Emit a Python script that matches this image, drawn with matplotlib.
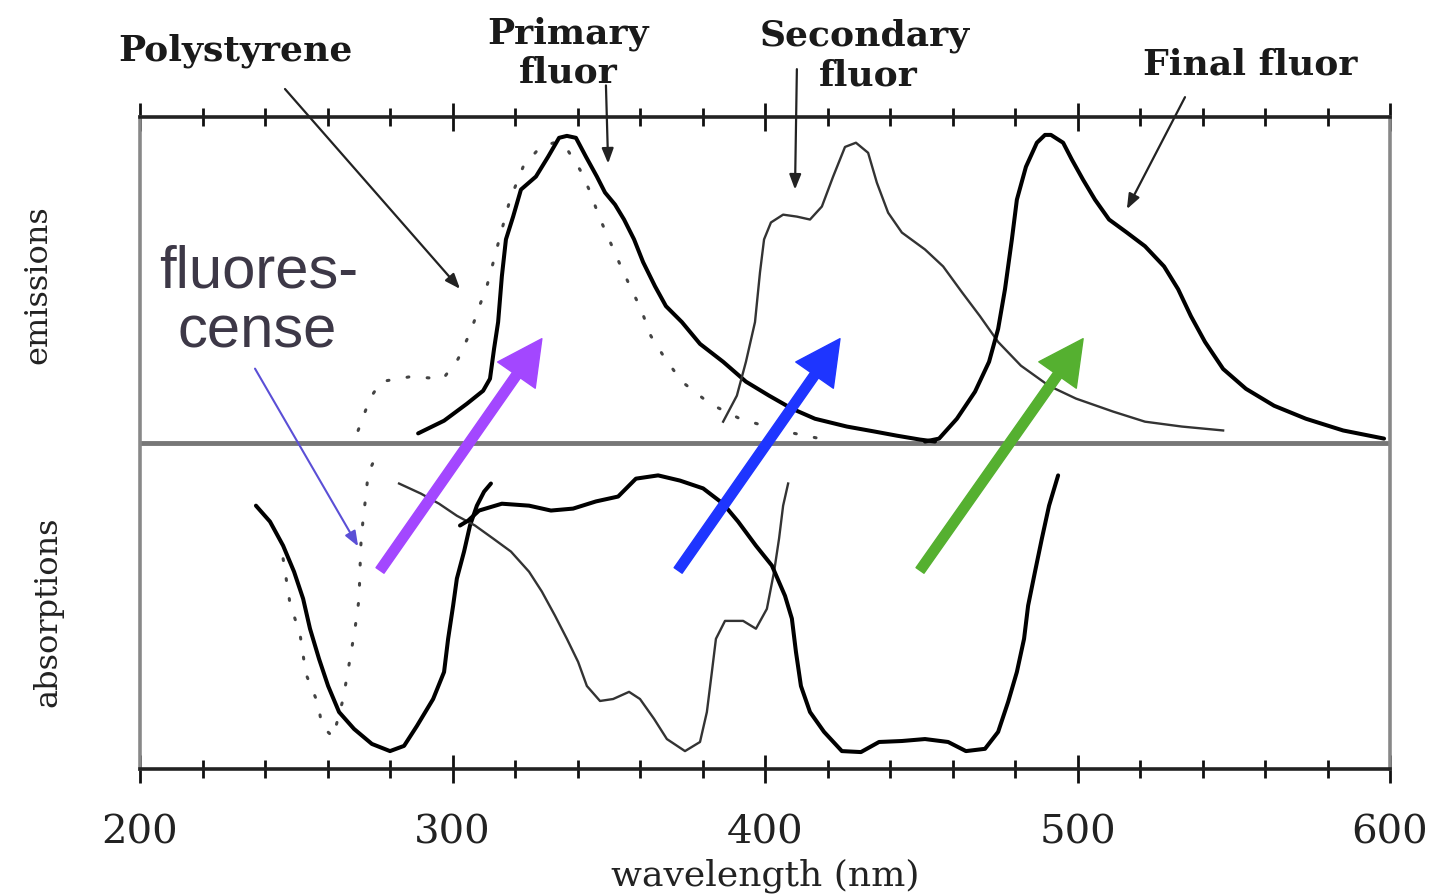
import numpy as np
import matplotlib
matplotlib.use("Agg")
import matplotlib.pyplot as plt

# emission spectra (upper half), wavelength in nm, relative intensity
ps_em_nm = [269.8, 273.6, 277.1, 286.4, 297.0, 301.8, 305.9, 308.5, 311.0, 313.3, 315.2,
            318.4, 322.6, 328.0, 332.8, 336.6, 340.8, 344.0, 346.9, 350.1, 353.6, 356.8,
            360.3, 363.5, 367.7, 373.4, 382.4, 392.0, 404.8, 417.6]
ps_em_val = [0.040, 0.138, 0.190, 0.205, 0.199, 0.260, 0.346, 0.419, 0.483, 0.566, 0.636,
             0.749, 0.850, 0.910, 0.925, 0.905, 0.841, 0.774, 0.697, 0.627, 0.550, 0.483,
             0.413, 0.330, 0.266, 0.190, 0.122, 0.076, 0.040, 0.015]

pf_em_nm = [289.0, 297.3, 304.6, 309.8, 312.0, 313.3, 314.6, 315.8, 317.1, 319.4, 321.9,
            326.7, 330.6, 334.1, 336.6, 339.5, 342.7, 346.2, 348.8, 352.0, 354.9, 358.1,
            361.0, 364.8, 368.3, 373.4, 379.2, 386.6, 393.9, 401.3, 408.6, 416.0, 426.2,
            434.9, 442.2, 449.6, 454.4]
pf_em_val = [0.031, 0.070, 0.122, 0.162, 0.199, 0.291, 0.373, 0.514, 0.627, 0.697, 0.780,
             0.820, 0.881, 0.939, 0.945, 0.939, 0.881, 0.820, 0.771, 0.734, 0.688, 0.627,
             0.557, 0.483, 0.422, 0.373, 0.306, 0.251, 0.190, 0.147, 0.107, 0.076, 0.052,
             0.037, 0.024, 0.012, 0.006]

sf_em_nm = [386.6, 391.0, 393.9, 396.8, 398.4, 399.7, 401.9, 405.8, 410.2, 414.4, 418.2,
            421.8, 425.6, 429.1, 433.0, 435.8, 439.4, 443.8, 451.2, 457.0, 463.0, 468.8,
            474.6, 481.9, 490.9, 499.5, 511.4, 521.6, 533.4, 546.6]
sf_em_val = [0.067, 0.147, 0.251, 0.373, 0.526, 0.627, 0.679, 0.703, 0.697, 0.688, 0.728,
             0.820, 0.911, 0.924, 0.893, 0.801, 0.709, 0.648, 0.596, 0.544, 0.465, 0.391,
             0.312, 0.239, 0.177, 0.138, 0.098, 0.067, 0.052, 0.040]

ff_em_nm = [451.2, 455.7, 461.4, 467.2, 471.7, 474.6, 476.8, 479.0, 480.6, 483.5, 487.0,
            489.6, 491.5, 495.4, 498.2, 501.8, 505.6, 510.1, 515.8, 521.6, 527.7, 532.2,
            536.3, 540.8, 546.6, 553.9, 562.9, 573.1, 585.0, 598.1]
ff_em_val = [0.006, 0.015, 0.076, 0.159, 0.251, 0.352, 0.474, 0.627, 0.749, 0.850, 0.924,
             0.948, 0.948, 0.924, 0.872, 0.810, 0.749, 0.688, 0.648, 0.606, 0.544, 0.474,
             0.391, 0.312, 0.229, 0.168, 0.116, 0.076, 0.040, 0.015]

# absorption spectra (lower half, drawn downwards)
ps_ab_nm = [245.8, 248.0, 251.2, 253.1, 257.0, 258.2, 261.8, 265.0, 267.2, 268.8, 270.1,
            270.4, 270.7, 271.4, 272.3, 273.0, 275.2, 277.1]
ps_ab_val = [0.354, 0.492, 0.585, 0.708, 0.800, 0.868, 0.902, 0.785, 0.662, 0.569, 0.477,
             0.385, 0.308, 0.231, 0.160, 0.092, 0.046, 0.015]

pf_ab_nm = [237.1, 241.6, 245.8, 249.3, 252.2, 254.4, 257.3, 260.2, 263.7, 268.5, 274.2,
            280.0, 284.5, 288.6, 293.8, 297.3, 298.6, 300.2, 301.4, 303.7, 305.6, 307.8,
            310.1, 312.3]
pf_ab_val = [0.191, 0.240, 0.314, 0.394, 0.477, 0.569, 0.662, 0.745, 0.825, 0.877, 0.923,
             0.945, 0.929, 0.868, 0.785, 0.702, 0.600, 0.498, 0.415, 0.332, 0.252, 0.191,
             0.148, 0.123]

sf_ab_nm = [282.9, 289.9, 295.7, 301.4, 307.2, 313.0, 318.7, 324.5, 328.6, 332.8, 336.6,
            340.2, 343.0, 347.2, 351.4, 356.5, 360.0, 364.5, 368.6, 374.4, 379.2, 381.4,
            383.0, 384.3, 387.2, 393.0, 397.1, 400.6, 402.9, 404.5, 405.8, 407.4]
sf_ab_val = [0.123, 0.154, 0.185, 0.222, 0.252, 0.292, 0.332, 0.394, 0.455, 0.529, 0.600,
             0.671, 0.745, 0.791, 0.785, 0.763, 0.785, 0.846, 0.908, 0.945, 0.917, 0.825,
             0.702, 0.600, 0.545, 0.545, 0.569, 0.508, 0.394, 0.292, 0.191, 0.123]

ff_ab_nm = [302.4, 305.0, 308.5, 315.8, 324.5, 331.5, 338.6, 345.9, 353.0, 358.7, 365.8,
            372.8, 380.2, 386.6, 391.4, 397.1, 402.2, 406.4, 408.6, 409.9, 411.5, 414.4,
            418.9, 424.6, 430.7, 436.5, 443.8, 451.2, 458.6, 464.3, 470.4, 474.6, 477.8,
            480.6, 482.9, 484.2, 486.4, 488.6, 490.9, 493.8]
ff_ab_val = [0.252, 0.237, 0.206, 0.185, 0.191, 0.206, 0.200, 0.178, 0.163, 0.108, 0.098,
             0.114, 0.138, 0.185, 0.240, 0.314, 0.375, 0.468, 0.538, 0.640, 0.745, 0.825,
             0.886, 0.945, 0.948, 0.917, 0.914, 0.908, 0.917, 0.945, 0.938, 0.886, 0.794,
             0.702, 0.600, 0.498, 0.394, 0.292, 0.191, 0.098]

major_ticks = [200, 300, 400, 500, 600]
minor_ticks = np.arange(200, 601, 20)

W, H = 1433, 895
fig = plt.figure(figsize=(W / 100, H / 100), dpi=100)
ax = fig.add_axes([140 / W, (H - 770) / H, 1250 / W, 652 / H])
ax.set_xlim(200, 600)
ax.set_ylim(-1.0, 1.003)

serif = "DejaVu Serif"
thick = dict(color="black", lw=2.9, solid_joinstyle="round", solid_capstyle="round")
thin = dict(color="#333333", lw=1.7, solid_joinstyle="round")
dots = dict(color="#444444", lw=2.2, linestyle=(0, (0.6, 6)), dash_capstyle="round")

ax.plot(ps_em_nm, ps_em_val, **dots)
ax.plot(pf_em_nm, pf_em_val, **thick)
ax.plot(sf_em_nm, sf_em_val, **thin)
ax.plot(ff_em_nm, ff_em_val, **thick)

ax.plot(ps_ab_nm, -np.array(ps_ab_val), **dots)
ax.plot(pf_ab_nm, -np.array(pf_ab_val), **thick)
ax.plot(sf_ab_nm, -np.array(sf_ab_val), **thin)
ax.plot(ff_ab_nm, -np.array(ff_ab_val), **thick)

ax.axhline(0, color="#777777", lw=3.5, zorder=1)

# frame
for side in ["top", "bottom"]:
    ax.spines[side].set_linewidth(2.6)
    ax.spines[side].set_color("#222222")
for side in ["left", "right"]:
    ax.spines[side].set_linewidth(2.6)
    ax.spines[side].set_color("#888888")

ax.set_yticks([])
ax.set_xticks(major_ticks)
ax.set_xticks(minor_ticks, minor=True)
ax.tick_params(axis="x", which="both", top=True, bottom=True, direction="inout",
               width=2, color="#111111")
ax.tick_params(axis="x", which="major", length=20, labelsize=29, pad=22)
ax.tick_params(axis="x", which="minor", length=13)
for lab in ax.get_xticklabels():
    lab.set_fontfamily(serif)
    lab.set_color("#222222")

ax.set_xlabel("wavelength (nm)", fontsize=26, fontfamily=serif, labelpad=5, color="#222222")
fig.text(38 / W, 1 - 285 / H, "emissions", rotation=90, ha="center", va="center",
         fontsize=23, fontfamily=serif, color="#222222")
fig.text(48 / W, 1 - 612 / H, "absorptions", rotation=90, ha="center", va="center",
         fontsize=23, fontfamily=serif, color="#222222")

# labels with pointer arrows
lab_kw = dict(fontsize=26, fontfamily=serif, fontweight="bold", ha="center", va="center",
              color="#1a1a1a", annotation_clip=False)
arr = dict(arrowstyle="-|>,head_length=0.9,head_width=0.35", color="#222222", lw=1.6,
           shrinkA=0, shrinkB=0)

ax.annotate("", xy=(302.4, 0.475), xytext=(246.4, 1.089), arrowprops=arr, annotation_clip=False)
ax.annotate("Polystyrene", xy=(230.4, 1.21), **lab_kw)

ax.annotate("", xy=(349.8, 0.86), xytext=(349.1, 1.10), arrowprops=arr, annotation_clip=False)
ax.annotate("Primary", xy=(337.0, 1.262), **lab_kw)
ax.annotate("fluor", xy=(337.0, 1.143), **lab_kw)

ax.annotate("", xy=(409.6, 0.78), xytext=(410.2, 1.15), arrowprops=arr, annotation_clip=False)
ax.annotate("Secondary", xy=(432.0, 1.255), **lab_kw)
ax.annotate("fluor", xy=(433.0, 1.133), **lab_kw)

ax.annotate("", xy=(515.8, 0.72), xytext=(534.4, 1.064), arrowprops=arr, annotation_clip=False)
ax.annotate("Final fluor", xy=(555.2, 1.166), **lab_kw)

# fluorescence note
ax.text(206.0, 0.53, "fluores-", fontsize=43, fontfamily="Liberation Sans",
        color="#3d3847", ha="left", va="center")
ax.text(212.0, 0.345, "cense", fontsize=43, fontfamily="Liberation Sans",
        color="#3d3847", ha="left", va="center")
ax.annotate("", xy=(269.8, -0.316), xytext=(236.8, 0.23), annotation_clip=False,
            arrowprops=dict(arrowstyle="-|>,head_length=0.9,head_width=0.35",
                            color="#5b4fd6", lw=1.5, shrinkA=0, shrinkB=0))

# energy transfer arrows
for (x0, x1), c in zip([(276.8, 328.6), (372.2, 424.0), (449.6, 501.8)],
                       ["#a347ff", "#1e35ff", "#55b030"]):
    ax.annotate("", xy=(x1, 0.322), xytext=(x0, -0.39), annotation_clip=False,
                arrowprops=dict(width=7, headwidth=33, headlength=32, color=c,
                                shrink=0))

fig.savefig("out.png", dpi=100)
